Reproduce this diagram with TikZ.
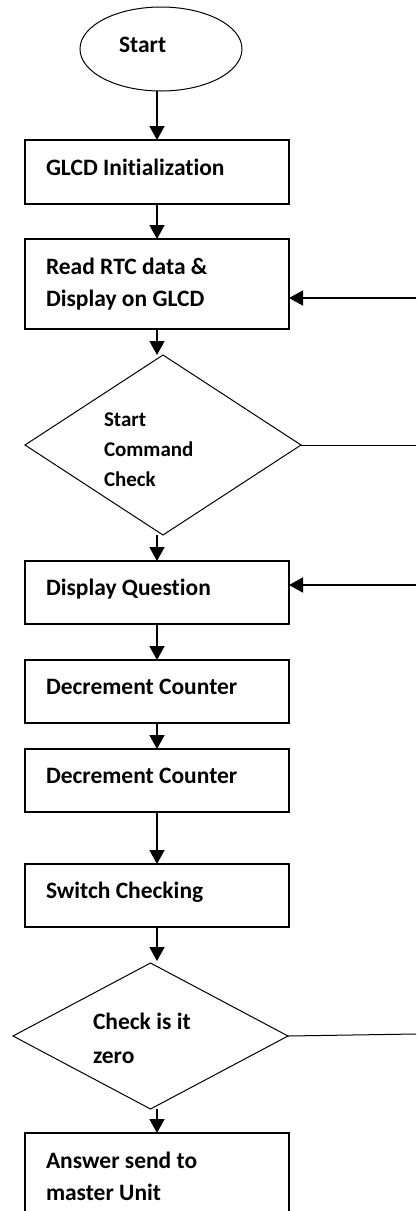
\documentclass[tikz,border=0pt]{standalone}
\usepackage{fontspec}
\setmainfont{Carlito}[Ligatures=NoCommon]
\usetikzlibrary{shapes.geometric,arrows.meta}

\begin{document}
\begin{tikzpicture}[x=1pt,y=-1pt,
  every node/.style={outer sep=0pt},
  proc/.style={draw, line width=1.2pt, rectangle, minimum width=264pt, inner sep=0pt},
  term/.style={draw, line width=1.0pt, ellipse, minimum width=162pt, minimum height=84pt, inner sep=0pt},
  decide/.style={draw, line width=1.0pt, diamond, inner sep=0pt},
  txt/.style={anchor=base west, inner sep=0pt, font=\fontsize{23.5}{28}\selectfont\bfseries},
  dtxt/.style={anchor=base west, inner sep=0pt, font=\fontsize{21}{25}\selectfont\bfseries},
  arr/.style={line width=1.6pt, -{Triangle[length=14pt,width=15pt]}},
  link/.style={line width=1.0pt}]

\clip (0,0) rectangle (416,1211);

% shapes
\node[term] (start) at (161,49) {};
\node[proc, minimum height=64pt] (b1) at (157,172) {};
\node[proc, minimum height=90pt] (b2) at (157,284) {};
\node[decide, minimum width=276pt, minimum height=180pt] (d1) at (163,445) {};
\node[proc, minimum height=63pt] (b3) at (157,592.5) {};
\node[proc, minimum height=63pt] (b4) at (157,691.5) {};
\node[proc, minimum height=63pt] (b5) at (157,780.5) {};
\node[proc, minimum height=63pt] (b6) at (157,895.5) {};
\node[decide, minimum width=275pt, minimum height=146pt] (d2) at (150.5,1036) {};
\node[proc, minimum height=110pt] (b7) at (157,1188) {};

% labels
\node[txt] (tstart) at (119,52) {Start};
\node[txt] (t1) at (46,175) {GLCD Initialization};
\node[txt] (t2a) at (46,274) {Read RTC data \&};
\node[txt] (t2b) at (46,306) {Display on GLCD};
\node[dtxt] (td1a) at (104,426) {Start};
\node[dtxt] (td1b) at (104,456) {Command};
\node[dtxt] (td1c) at (104,486) {Check};
\node[txt] (t3) at (46,595) {Display Question};
\node[txt] (t4) at (46,694) {Decrement Counter};
\node[txt] (t5) at (46,783) {Decrement Counter};
\node[txt] (t6) at (46,898) {Switch Checking};
\node[txt] (td2a) at (93,1029) {Check is it};
\node[txt] (td2b) at (93,1063) {zero};
\node[txt] (t7a) at (46,1168) {Answer send to};
\node[txt] (t7b) at (46,1200) {master Unit};

% free ends at the right margin
\coordinate (r1) at (416,298);
\coordinate (q1) at (416,445);
\coordinate (r2) at (416,585);
\coordinate (q2) at (416,1034);

% main flow
\draw[arr] (b1.north |- start.south) -- (b1.north);
\draw[arr] (b1.south) -- (b2.north);
\draw[arr] (b2.south) -- (b2.south |- d1.north);
\draw[arr] (b3.north |- d1.south) -- (b3.north);
\draw[arr] (b3.south) -- (b4.north);
\draw[arr] (b4.south) -- (b5.north);
\draw[arr] (b5.south) -- (b6.north);
\draw[arr] (b6.south) -- ([yshift=2pt]b6.south |- d2.north);
\draw[arr] (b7.north |- d2.south) -- (b7.north);

% side branches
\draw[arr] (r1) -- (r1 -| b2.east);
\draw[link] (d1.east) -- (q1);
\draw[arr] (r2) -- (r2 -| b3.east);
\draw[link] (d2.east) -- (q2);
\end{tikzpicture}
\end{document}
